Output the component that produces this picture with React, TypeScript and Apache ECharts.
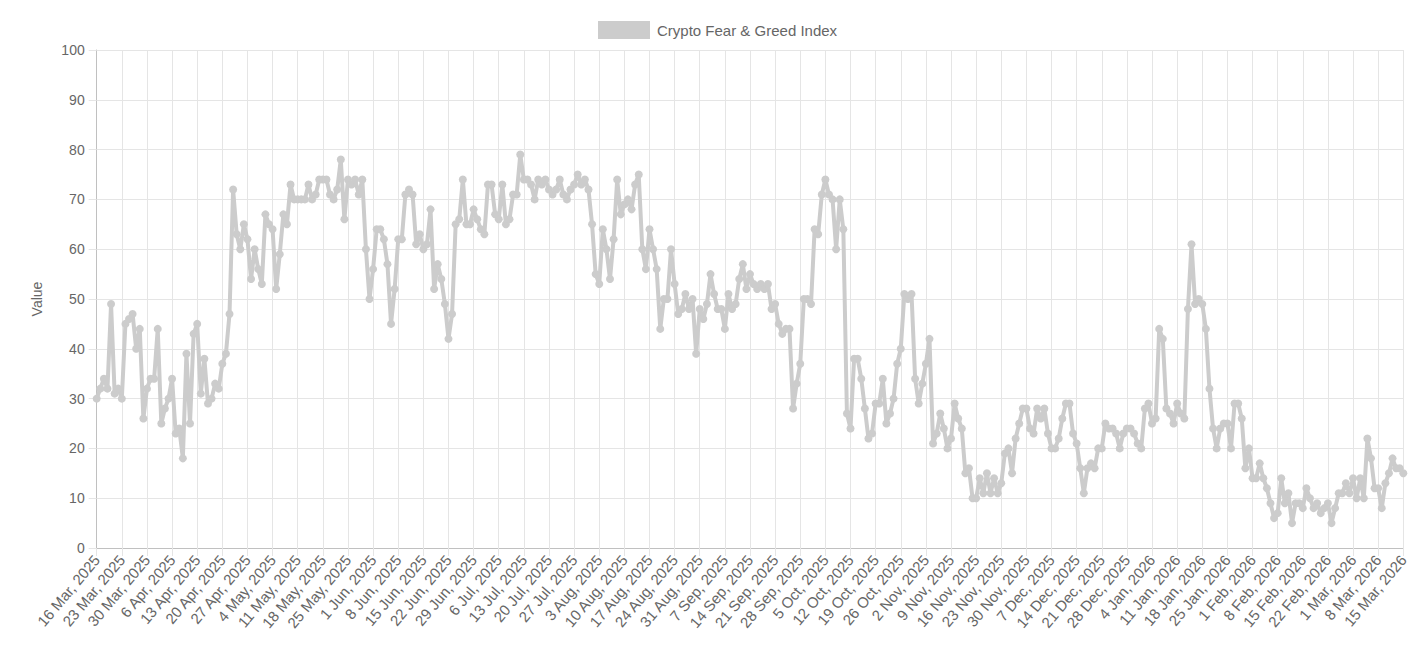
import React, { useEffect, useRef } from "react";
import * as echarts from "echarts";

// Daily Crypto Fear & Greed Index, 16 Mar 2025 .. 15 Mar 2026
const startDate = { year: 2025, month: 2, day: 16 }; // month is 0-based (March)
const monthNames = ["Jan", "Feb", "Mar", "Apr", "May", "Jun", "Jul", "Aug", "Sep", "Oct", "Nov", "Dec"];

const valuesMarApr2025 = [
  30, 32, 34, 32, 49, 31, 32, 30, 45, 46,
  47, 40, 44, 26, 32, 34, 34, 44, 25, 28,
  30, 34, 23, 24, 18, 39, 25, 43, 45, 31,
  38, 29, 30, 33, 32, 37, 39, 47,
];
const valuesAprMay2025 = [
  72, 63, 60, 65, 62, 54, 60, 56, 53, 67,
  65, 64, 52, 59, 67, 65, 73, 70, 70, 70,
  70, 73, 70, 71, 74, 74, 74, 71, 70, 72,
  78, 66, 74, 73, 74, 71, 74, 60,
];
const valuesJun2025 = [
  50, 56, 64, 64, 62, 57, 45, 52, 62, 62,
  71, 72, 71, 61, 63, 60, 61, 68, 52, 57,
  54, 49, 42, 47, 65, 66, 74, 65, 65, 68,
  66, 64, 63, 73,
];
const valuesJulAug2025 = [
  73, 67, 66, 73, 65, 66, 71, 71, 79, 74,
  74, 73, 70, 74, 73, 74, 72, 71, 72, 74,
  71, 70, 72, 73, 75, 73, 74, 72, 65, 55,
  53, 64, 60, 54, 62, 74,
];
const valuesAugSep2025 = [
  67, 69, 70, 68, 73, 75, 60, 56, 64, 60,
  56, 44, 50, 50, 60, 53, 47, 48, 51, 48,
  50, 39, 48, 46, 49, 55, 51, 48, 48, 44,
  51, 48, 49, 54, 57, 52, 55,
];
const valuesSepOct2025 = [
  53, 52, 53, 52, 53, 48, 49, 45, 43, 44,
  44, 28, 33, 37, 50, 50, 49, 64, 63, 71,
  74, 71, 70, 60, 70, 64, 27, 24, 38, 38,
  34, 28, 22, 23, 29, 29,
];
const valuesOctNov2025 = [
  34, 25, 27, 30, 37, 40, 51, 50, 51, 34,
  29, 33, 37, 42, 21, 23, 27, 24, 20, 22,
  29, 26, 24, 15, 16, 10, 10, 14, 11, 15,
  11, 14, 11, 13, 19, 20,
];
const valuesDec2025 = [
  15, 22, 25, 28, 28, 24, 23, 28, 26, 28,
  23, 20, 20, 22, 26, 29, 29, 23, 21, 16,
  11, 16, 17, 16, 20, 20, 25, 24, 24, 23,
  20, 23, 24, 24, 23, 21,
];
const valuesJan2026 = [
  20, 28, 29, 25, 26, 44, 42, 28, 27, 25,
  29, 27, 26, 48, 61, 49, 50, 49, 44, 32,
  24, 20, 24, 25, 25, 20, 29, 29, 26, 16,
  20, 14, 14, 17, 14,
];
const valuesFebMar2026 = [
  12, 9, 6, 7, 14, 9, 11, 5, 9, 9,
  8, 12, 10, 8, 9, 7, 8, 9, 5, 8,
  11, 11, 13, 11, 14, 10, 14, 10, 22, 18,
  12, 12, 8, 13, 15, 18, 16, 16, 15,
];

const seriesValues = [
  ...valuesMarApr2025,
  ...valuesAprMay2025,
  ...valuesJun2025,
  ...valuesJulAug2025,
  ...valuesAugSep2025,
  ...valuesSepOct2025,
  ...valuesOctNov2025,
  ...valuesDec2025,
  ...valuesJan2026,
  ...valuesFebMar2026,
];

const categories: string[] = seriesValues.map((_, i) => {
  const d = new Date(Date.UTC(startDate.year, startDate.month, startDate.day + i));
  return `${d.getUTCDate()} ${monthNames[d.getUTCMonth()]}, ${d.getUTCFullYear()}`;
});

const yTicks = { min: 0, max: 100, interval: 10 };
const seriesName = "Crypto Fear & Greed Index";
const yAxisName = "Value";

const FONT = "'Liberation Sans', Arial, Helvetica, sans-serif";
const GRID = "#e5e5e5";
const AXIS = "#c0c0c0";
const TEXT = "#666666";
const LINE = "#cccccc";

export default function App() {
  const ref = useRef<HTMLDivElement>(null);

  useEffect(() => {
    if (!ref.current) return;
    const chart = echarts.init(ref.current, undefined, { renderer: "svg" });
    chart.setOption({
      animation: false,
      textStyle: { fontFamily: FONT },
      legend: {
        show: true,
        top: 16,
        left: 593,
        icon: "rect",
        itemWidth: 52,
        itemHeight: 18,
        itemGap: 10,
        textStyle: { fontSize: 15, color: TEXT, fontFamily: FONT, padding: [0, 0, 0, 2] },
        data: [{ name: seriesName, itemStyle: { color: LINE } }],
      },
      grid: { left: 96.7, right: 21.7, top: 50, bottom: 103, containLabel: false },
      xAxis: {
        type: "category",
        data: categories,
        boundaryGap: false,
        axisLine: { show: true, lineStyle: { color: AXIS, width: 1 } },
        axisTick: { show: true, interval: 6, length: 8, lineStyle: { color: GRID } },
        axisLabel: {
          interval: 6,
          rotate: 50,
          margin: 9,
          fontSize: 15,
          color: TEXT,
          fontFamily: FONT,
        },
        splitLine: { show: true, interval: 6, lineStyle: { color: GRID, width: 1 } },
      },
      yAxis: {
        type: "value",
        min: yTicks.min,
        max: yTicks.max,
        interval: yTicks.interval,
        name: yAxisName,
        nameLocation: "middle",
        nameGap: 53,
        nameRotate: 90,
        nameTextStyle: { fontSize: 14, color: TEXT, fontFamily: FONT },
        axisLine: { show: true, lineStyle: { color: AXIS, width: 1 } },
        axisTick: { show: true, length: 8, lineStyle: { color: GRID } },
        axisLabel: { margin: 12, fontSize: 14, color: TEXT, fontFamily: FONT },
        splitLine: { show: true, lineStyle: { color: GRID, width: 1 } },
      },
      series: [
        {
          name: seriesName,
          type: "line",
          data: seriesValues,
          symbol: "circle",
          symbolSize: 8,
          showSymbol: true,
          showAllSymbol: true,
          lineStyle: { color: LINE, width: 4 },
          itemStyle: { color: LINE },
          emphasis: { disabled: true },
        },
      ],
    });
    return () => chart.dispose();
  }, []);

  return (
    <div
      ref={ref}
      style={{ position: "fixed", left: 0, top: 0, width: 1425, height: 651, background: "#fff" }}
    />
  );
}
